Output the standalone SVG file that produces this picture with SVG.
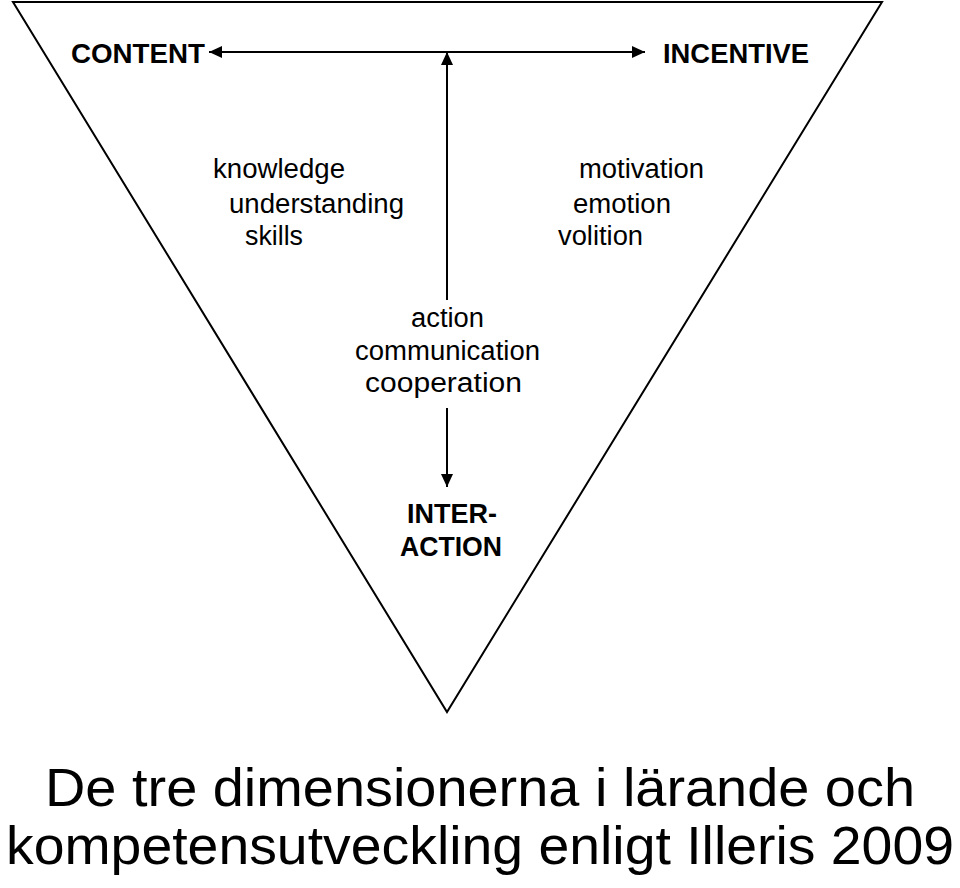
<svg xmlns="http://www.w3.org/2000/svg" width="960" height="888" viewBox="0 0 960 888">
<style>
.t{font-family:"Liberation Sans",Arial,sans-serif;font-size:27px;fill:#000}
.b{font-family:"Liberation Sans",Arial,sans-serif;font-size:28px;font-weight:bold;fill:#000}
.ti{font-family:"Liberation Sans",Arial,sans-serif;font-size:54px;fill:#000}
.ln{stroke:#000;stroke-width:2;fill:none}
</style>
<defs>
<marker id="ah" viewBox="0 0 13 12" refX="13" refY="6" markerWidth="13" markerHeight="12" markerUnits="userSpaceOnUse" orient="auto-start-reverse">
<path d="M0,0 L13,6 L0,12 z" fill="#000"/>
</marker>
</defs>
<rect width="960" height="888" fill="#fff"/>
<g id="triangle">
<path class="ln" d="M13,2 L882,2 L447,712 Z" stroke-linejoin="miter"/>
</g>
<g id="connectors">
<line class="ln" x1="209" y1="52" x2="645" y2="52" marker-start="url(#ah)" marker-end="url(#ah)"/>
<line class="ln" x1="447" y1="300" x2="447" y2="52" marker-end="url(#ah)"/>
<line class="ln" x1="447" y1="408" x2="447" y2="487" marker-end="url(#ah)"/>
</g>
<g id="content">
<text class="b" x="71" y="63" textLength="134" lengthAdjust="spacingAndGlyphs">CONTENT</text>
</g>
<g id="incentive">
<text class="b" x="663" y="63" textLength="146" lengthAdjust="spacingAndGlyphs">INCENTIVE</text>
</g>
<g id="content-items">
<text class="t" x="213" y="178" textLength="132" lengthAdjust="spacingAndGlyphs">knowledge</text>
<text class="t" x="229" y="213" textLength="175" lengthAdjust="spacingAndGlyphs">understanding</text>
<text class="t" x="245" y="245" textLength="58" lengthAdjust="spacingAndGlyphs">skills</text>
</g>
<g id="incentive-items">
<text class="t" x="579" y="178" textLength="125" lengthAdjust="spacingAndGlyphs">motivation</text>
<text class="t" x="573" y="213" textLength="98" lengthAdjust="spacingAndGlyphs">emotion</text>
<text class="t" x="558" y="245" textLength="85" lengthAdjust="spacingAndGlyphs">volition</text>
</g>
<g id="interaction-items">
<text class="t" x="411" y="327" textLength="73" lengthAdjust="spacingAndGlyphs">action</text>
<text class="t" x="355" y="360" textLength="185" lengthAdjust="spacingAndGlyphs">communication</text>
<text class="t" x="365" y="392" textLength="157" lengthAdjust="spacingAndGlyphs">cooperation</text>
</g>
<g id="interaction">
<text class="b" x="407" y="523" textLength="90" lengthAdjust="spacingAndGlyphs">INTER-</text>
<text class="b" x="400" y="556" textLength="102" lengthAdjust="spacingAndGlyphs">ACTION</text>
</g>
<g id="title">
<text class="ti" x="45" y="806" textLength="870" lengthAdjust="spacingAndGlyphs">De tre dimensionerna i lärande och</text>
<text class="ti" x="6" y="864" textLength="948" lengthAdjust="spacingAndGlyphs">kompetensutveckling enligt Illeris 2009</text>
</g>
</svg>
